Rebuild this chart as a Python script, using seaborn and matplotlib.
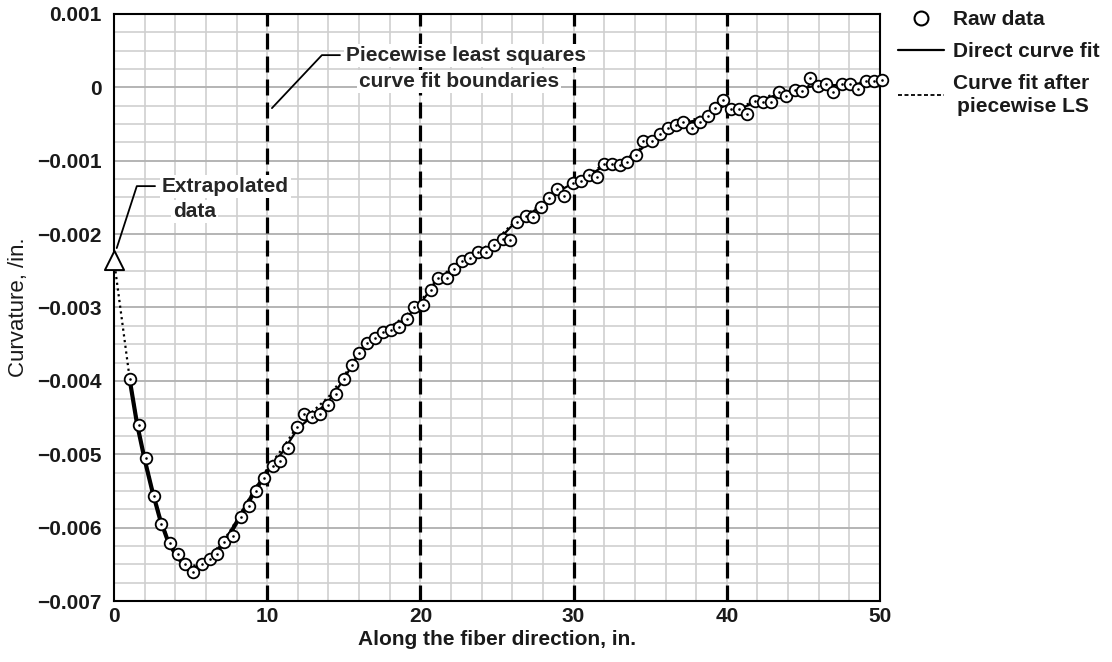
import matplotlib
matplotlib.use("Agg")
import matplotlib.pyplot as plt
import seaborn as sns
import pandas as pd
from matplotlib.lines import Line2D
from matplotlib.ticker import MultipleLocator

# ---------------- data ----------------
x_raw = [1.06, 1.61, 2.11, 2.63, 3.09, 3.63, 4.15, 4.65, 5.19, 5.74, 6.24, 6.72, 7.21, 7.74, 8.28,
         8.83, 9.28, 9.76, 10.35, 10.85, 11.39, 11.94, 12.41, 12.92, 13.46, 14.00, 14.48, 15.02,
         15.52, 16.00, 16.50, 17.04, 17.55, 18.09, 18.61, 19.11, 19.61, 20.16, 20.66, 21.17, 21.72,
         22.18, 22.72, 23.24, 23.76, 24.27, 24.83, 25.37, 25.85, 26.33, 26.87, 27.37, 27.87, 28.39,
         28.90, 29.39, 29.94, 30.48, 31.00, 31.50, 32.00, 32.52, 33.02, 33.50, 34.05, 34.54, 35.12,
         35.67, 36.17, 36.67, 37.15, 37.70, 38.24, 38.74, 39.26, 39.72, 40.26, 40.78, 41.33, 41.83,
         42.37, 42.87, 43.39, 43.89, 44.43, 44.93, 45.46, 45.95, 46.50, 46.93, 47.52, 48.02, 48.56,
         49.11, 49.58, 50.10]
y_raw = [-0.00397, -0.00460, -0.00505, -0.00557, -0.00595, -0.00621, -0.00636, -0.00649, -0.00661,
         -0.00650, -0.00643, -0.00636, -0.00619, -0.00611, -0.00585, -0.00571, -0.00550, -0.00532,
         -0.00516, -0.00509, -0.00491, -0.00463, -0.00445, -0.00449, -0.00445, -0.00433, -0.00418,
         -0.00398, -0.00378, -0.00362, -0.00349, -0.00342, -0.00333, -0.00331, -0.00326, -0.00316,
         -0.00300, -0.00296, -0.00276, -0.00260, -0.00260, -0.00247, -0.00236, -0.00233, -0.00225,
         -0.00224, -0.00215, -0.00206, -0.00208, -0.00183, -0.00175, -0.00176, -0.00163, -0.00151,
         -0.00138, -0.00148, -0.00131, -0.00127, -0.00120, -0.00122, -0.00105, -0.00104, -0.00106,
         -0.00102, -0.00092, -0.00073, -0.00073, -0.00064, -0.00056, -0.00051, -0.00047, -0.00056,
         -0.00047, -0.00039, -0.00028, -0.00017, -0.00029, -0.00030, -0.00036, -0.00018, -0.00020,
         -0.00020, -0.00006, -0.00012, -0.00004, -0.00005, 0.00013, 0.00002, 0.00005, -0.00006,
         0.00005, 0.00004, -0.00002, 0.00008, 0.00009, 0.00010]

x_fit = [1, 1.5, 2, 2.5, 3, 3.5, 4, 4.5, 5, 5.5, 6, 6.5, 7, 7.5, 8, 8.5, 9, 9.5, 10,
         11, 12, 13, 14, 15, 16, 17, 18, 19, 20, 21, 22, 23, 24, 25, 26, 27, 28, 29, 30,
         31, 32, 33, 34, 35, 36, 37, 38, 39, 40, 41, 42, 43, 44, 45, 46, 47, 48, 49, 50]
y_fit_direct = [-0.00395, -0.00458, -0.00507, -0.00550, -0.00588, -0.00617, -0.00636, -0.00649,
                -0.00656, -0.00654, -0.00646, -0.00637, -0.00625, -0.00611, -0.00593, -0.00575,
                -0.00557, -0.00540, -0.00523, -0.00497, -0.00465, -0.00447, -0.00428, -0.00398,
                -0.00362, -0.00342, -0.00330, -0.00315, -0.00295, -0.00265, -0.00250, -0.00234,
                -0.00224, -0.00210, -0.00188, -0.00174, -0.00160, -0.00142, -0.00130, -0.00120,
                -0.00107, -0.00103, -0.00092, -0.00073, -0.00058, -0.00049, -0.00045, -0.00033,
                -0.00024, -0.00028, -0.00019, -0.00012, -0.00006, -0.00001, 0.00003, 0.00003,
                0.00004, 0.00006, 0.00009]
x_extrap = [0.0]
y_extrap = [-0.00235]
y_fit_ls = [-0.00393, -0.00455, -0.00504, -0.00548, -0.00585, -0.00614, -0.00633, -0.00646,
            -0.00652, -0.00651, -0.00644, -0.00634, -0.00621, -0.00607, -0.00590, -0.00572,
            -0.00554, -0.00537, -0.00520, -0.00492, -0.00461, -0.00441, -0.00422, -0.00394,
            -0.00360, -0.00339, -0.00327, -0.00312, -0.00292, -0.00263, -0.00247, -0.00231,
            -0.00221, -0.00207, -0.00186, -0.00172, -0.00158, -0.00140, -0.00128, -0.00118,
            -0.00105, -0.00101, -0.00090, -0.00071, -0.00056, -0.00047, -0.00043, -0.00031,
            -0.00022, -0.00026, -0.00017, -0.00010, -0.00004, 0.00001, 0.00004, 0.00004,
            0.00005, 0.00007, 0.00010]

boundaries = [10, 20, 30, 40]
x_ticks = [0, 10, 20, 30, 40, 50]
x_tick_labels = ["0", "10", "20", "30", "40", "50"]
y_ticks = [0.001, 0.0, -0.001, -0.002, -0.003, -0.004, -0.005, -0.006, -0.007]
y_tick_labels = ["0.001", "0", "\u22120.001", "\u22120.002", "\u22120.003", "\u22120.004",
                 "\u22120.005", "\u22120.006", "\u22120.007"]

# ---------------- style ----------------
sns.set_theme(style="white")
plt.rcParams["font.family"] = ["Liberation Sans", "DejaVu Sans"]
FS = 15

fig = plt.figure(figsize=(11.12, 6.62), dpi=100)
ax = fig.add_axes([0.1025, 0.0921, 0.6889, 0.8868])

ax.set_xlim(0, 50)
ax.set_ylim(-0.007, 0.001)

# grid
ax.xaxis.set_minor_locator(MultipleLocator(2))
ax.yaxis.set_minor_locator(MultipleLocator(0.00025))
ax.set_axisbelow(True)
ax.grid(which="minor", color="#cfcfcf", lw=1.2)
ax.grid(which="major", axis="y", color="#b4b4b4", lw=1.4)
ax.grid(which="major", axis="x", color="#cfcfcf", lw=1.2)

for b in boundaries:
    ax.axvline(b, color="black", lw=2.3, dashes=(5, 2.2), zorder=2)

n1 = 19  # first segment (1 .. 10) drawn heavier
df_fit = pd.DataFrame({"x": x_fit, "y": y_fit_direct})
sns.lineplot(data=df_fit.iloc[:n1], x="x", y="y", color="black", lw=3.0, sort=True,
             estimator=None, ax=ax, zorder=2.5)
sns.lineplot(data=df_fit.iloc[n1 - 1:], x="x", y="y", color="black", lw=1.6, sort=True,
             estimator=None, ax=ax, zorder=2.5)

df_ls = pd.DataFrame({"x": x_extrap + x_fit, "y": y_extrap + y_fit_ls})
sns.lineplot(data=df_ls, x="x", y="y", color="black", lw=1.6, linestyle=(0, (1, 1.6)),
             sort=True, estimator=None, ax=ax, zorder=2.6)

# raw data circles
sns.scatterplot(x=x_raw, y=y_raw, marker="o", s=70, facecolor="white", edgecolor="black",
                linewidth=1.3, ax=ax, zorder=3, clip_on=False, legend=False)
sns.scatterplot(x=x_raw, y=y_raw, marker="o", s=3.5, color="black", linewidth=0,
                ax=ax, zorder=3.5, clip_on=False, legend=False)

# extrapolated triangle
sns.scatterplot(x=x_extrap, y=y_extrap, marker="^", s=190, facecolor="white", edgecolor="black",
                linewidth=1.4, ax=ax, zorder=4, clip_on=False, legend=False)

# annotations
box = dict(facecolor="white", edgecolor="none", pad=1.5)
ax.plot([0.18, 1.49, 2.68], [-0.00219, -0.001346, -0.001346], color="black", lw=1.3, zorder=5)
ax.text(3.12, -0.001346, "Extrapolated", ha="left", va="center", fontsize=FS,
        fontweight="bold", bbox=box, zorder=5)
ax.text(5.27, -0.001687, "data", ha="center", va="center", fontsize=FS,
        fontweight="bold", bbox=box, zorder=5)

ax.plot([10.31, 13.57, 14.75], [-0.000283, 0.000439, 0.000439], color="black", lw=1.3, zorder=5)
ax.text(22.97, 0.000439, "Piecewise least squares", ha="center", va="center", fontsize=FS,
        fontweight="bold", bbox=box, zorder=5)
ax.text(22.5, 0.000075, "curve fit boundaries", ha="center", va="center", fontsize=FS,
        fontweight="bold", bbox=box, zorder=5)

# axes / ticks
ax.set_xticks(x_ticks, x_tick_labels)
ax.set_yticks(y_ticks, y_tick_labels)
for lab in ax.get_xticklabels() + ax.get_yticklabels():
    lab.set_fontweight("bold")
    lab.set_fontsize(FS)
    lab.set_color("#1a1a1a")
ax.tick_params(axis="both", which="both", length=0)
ax.tick_params(axis="y", pad=9)
ax.tick_params(axis="x", pad=4)
ax.set_xlabel("Along the fiber direction, in.", fontsize=FS, fontweight="bold",
              color="#1a1a1a", labelpad=3)
ax.set_ylabel("Curvature, /in.", fontsize=16, color="#1a1a1a", labelpad=6)
for s in ax.spines.values():
    s.set_visible(True)
    s.set_color("black")
    s.set_linewidth(1.5)

# legend
handles = [
    Line2D([], [], marker="o", ls="none", mfc="white", mec="black", ms=10, mew=1.5),
    Line2D([], [], color="black", lw=1.6),
    Line2D([], [], color="black", lw=1.3, linestyle=(0, (2.2, 1.4))),
]
labels = ["Raw data", "Direct curve fit", "Curve fit after\npiecewise LS"]
leg = fig.legend(handles, labels, loc="upper left", bbox_to_anchor=(0.808, 0.985),
                 frameon=False, prop={"weight": "bold", "size": FS}, handlelength=2.2,
                 handletextpad=0.42, labelspacing=0.62, borderaxespad=0, borderpad=0)
for t in leg.get_texts():
    t.set_multialignment("right")
    t.set_linespacing(1.3)
    t.set_color("#1a1a1a")

fig.savefig("out.png", dpi=100)
